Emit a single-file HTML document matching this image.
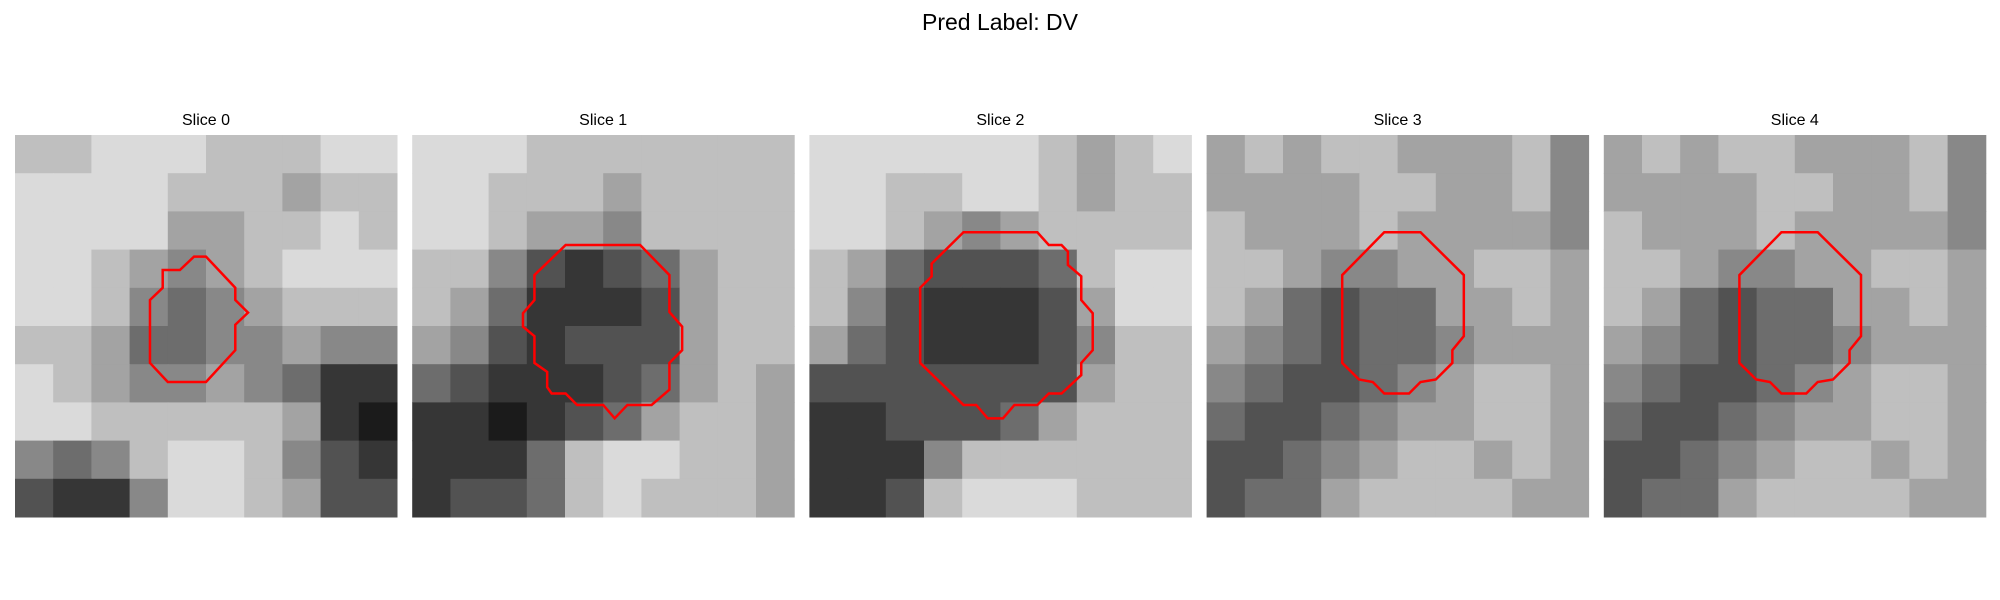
<!DOCTYPE html>
<html><head><meta charset="utf-8"><style>
html,body{margin:0;padding:0;background:#fff;width:2000px;height:600px;overflow:hidden;font-family:"Liberation Sans",sans-serif}
</style></head><body>
<svg id="fig" width="2000" height="600" xmlns="http://www.w3.org/2000/svg">
<text x="1000" y="30" text-anchor="middle" font-size="23" font-family="Liberation Sans, sans-serif">Pred Label: DV</text>
</svg>
<script>
const sliceTitles = ["Slice 0","Slice 1","Slice 2","Slice 3","Slice 4"];
// coarse 10x10 gray levels (0 black .. 9 white) per slice
const grid0 = [
[7,7,8,8,8,7,7,7,8,8],[8,8,8,8,7,7,7,6,7,7],[8,8,8,8,6,6,7,7,8,7],[8,8,7,6,5,6,7,8,8,8],
[8,8,7,5,4,5,6,7,7,7],[7,7,6,4,4,5,5,6,5,5],[8,7,6,5,5,6,5,4,2,2],[8,8,7,7,7,7,7,6,2,1],
[5,4,5,7,8,8,7,5,3,2],[3,2,2,5,8,8,7,6,3,3]];
const grid1 = [
[8,8,8,7,7,7,7,7,7,7],[8,8,7,7,7,6,7,7,7,7],[8,8,7,6,6,5,7,7,7,7],[7,7,5,3,2,3,4,6,7,7],
[7,6,4,2,2,2,3,6,7,7],[6,5,3,2,3,3,3,6,7,7],[4,3,2,2,2,3,4,6,7,6],[2,2,1,2,3,4,6,7,7,6],
[2,2,2,4,7,8,8,7,7,6],[2,3,3,4,7,8,7,7,7,6]];
const grid2 = [
[8,8,8,8,8,8,7,6,7,8],[8,8,7,7,8,8,7,6,7,7],[8,8,7,6,5,6,7,7,7,7],[7,6,4,3,3,3,4,7,8,8],
[7,5,3,2,2,2,3,6,8,8],[6,4,3,2,2,2,3,5,7,7],[3,3,3,3,3,3,3,6,7,7],[2,2,3,3,3,4,6,7,7,7],
[2,2,2,5,7,7,7,7,7,7],[2,2,3,7,8,8,8,7,7,7]];
const grid3 = [
[6,7,6,7,7,6,6,6,7,5],[6,6,6,6,7,7,6,6,7,5],[7,6,6,6,7,6,6,6,6,5],[7,7,6,5,5,6,6,7,7,6],
[7,6,4,3,4,4,6,6,7,6],[6,5,4,3,4,4,5,6,6,6],[5,4,3,3,4,5,6,7,7,6],[4,3,3,4,5,6,6,7,7,6],
[3,3,4,5,6,7,7,6,7,6],[3,4,4,6,7,7,7,7,6,6]];
const grid4 = [
[6,7,6,7,7,6,6,6,7,5],[6,6,6,6,7,7,6,6,7,5],[7,6,6,6,7,6,6,6,6,5],[7,7,6,5,5,6,6,7,7,6],
[7,6,4,3,4,4,6,6,7,6],[6,5,4,3,4,4,5,6,6,6],[5,4,3,3,4,5,6,7,7,6],[4,3,3,4,5,6,6,7,7,6],
[3,3,4,5,6,7,7,6,7,6],[3,4,4,6,7,7,7,7,6,6]];
const grids = [grid0,grid1,grid2,grid3,grid4];
// contour vertices in image-pixel coords (30x30 image)
const contour0 = [[14.06,9.55],[15,9.55],[17.3,12],[17.3,12.96],[18.3,13.95],[17.3,14.9],[17.3,16.9],[15,19.4],[12,19.4],[10.6,17.9],[10.6,12.96],[11.6,12],[11.6,10.6],[12.95,10.6]];
const contour1 = [[12.05,8.64],[17.9,8.64],[20.2,11],[20.2,13.9],[21.2,15.05],[21.2,16.9],[20.2,17.9],[20.2,20],[18.8,21.2],[16.9,21.2],[15.9,22.25],[15,21.2],[12.95,21.2],[12.05,20.3],[10.95,20.3],[10.6,19.8],[10.6,18.6],[9.6,17.9],[9.6,15.8],[8.7,15.05],[8.7,14],[9.6,12.96],[9.6,11]];
const contour2 = [[12.1,7.64],[17.9,7.64],[18.8,8.64],[19.8,8.64],[20.3,9.16],[20.3,10.2],[21.35,11.1],[21.35,12.96],[22.25,14],[22.25,16.9],[21.35,17.9],[21.35,18.85],[19.8,20.3],[18.8,20.3],[17.9,21.2],[16.1,21.2],[15.2,22.25],[14,22.25],[13.1,21.2],[12.1,21.2],[8.7,17.9],[8.7,12],[9.6,11.1],[9.6,10.1]];
const contour3 = [[13.95,7.64],[16.8,7.64],[20.2,11],[20.2,15.8],[19.3,16.9],[19.3,17.9],[18,19.2],[16.8,19.4],[15.9,20.3],[13.95,20.3],[13.05,19.4],[11.97,19.2],[10.65,17.9],[10.65,11]];
const contour4 = [[13.95,7.64],[16.8,7.64],[20.2,11],[20.2,15.8],[19.3,16.9],[19.3,17.9],[18,19.2],[16.8,19.4],[15.9,20.3],[13.95,20.3],[13.05,19.4],[11.97,19.2],[10.65,17.9],[10.65,11]];
const contours = [contour0,contour1,contour2,contour3,contour4];

const NS="http://www.w3.org/2000/svg";
const svg=document.getElementById('fig');
const panelX0=15, panelStep=397.2, panelW=382, panelY0=135, imgN=30;
function px(i,v){return panelX0+i*panelStep+v/imgN*panelW;}
function py(v){return panelY0+v/imgN*panelW;}
function gray(l){const g=Math.round(l/9*245);return `rgb(${g},${g},${g})`;}
for(let i=0;i<grids.length;i++){
  const g=document.createElementNS(NS,'g');
  
  
  svg.appendChild(g);
  const t=document.createElementNS(NS,'text');
  
  
  t.setAttribute('x',px(i,15));t.setAttribute('y',125);
  t.setAttribute('text-anchor','middle');t.setAttribute('font-size','16');
  t.setAttribute('font-family','Liberation Sans, sans-serif');
  t.textContent=sliceTitles[i];g.appendChild(t);
  const G=grids[i], n=G.length, cs=imgN/n;
  for(let r=0;r<n;r++)for(let c=0;c<G[r].length;c++){
    const x0=px(i,c*cs), x1=px(i,(c+1)*cs), y0=py(r*cs), y1=py((r+1)*cs);
    const rc=document.createElementNS(NS,'rect');
    
    
    rc.setAttribute('x',x0);rc.setAttribute('y',y0);
    rc.setAttribute('width',x1-x0+0.5);rc.setAttribute('height',y1-y0+0.5);
    rc.setAttribute('fill',gray(G[r][c]));g.appendChild(rc);
  }
  const pl=document.createElementNS(NS,'polygon');
  
  
  pl.setAttribute('points',contours[i].map(p=>px(i,p[0])+','+py(p[1])).join(' '));
  pl.setAttribute('fill','none');pl.setAttribute('stroke','#ff0000');pl.setAttribute('stroke-width','2.5');
  g.appendChild(pl);
}
</script>
</body></html>
